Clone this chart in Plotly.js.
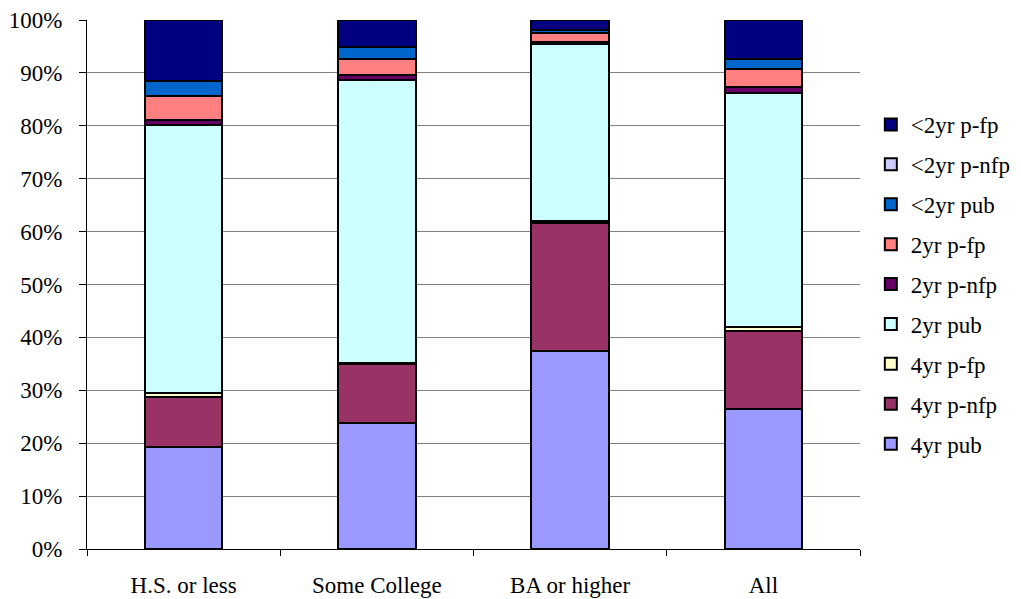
<!DOCTYPE html>
<html>
<head>
<meta charset="utf-8">
<script src="https://cdn.plot.ly/plotly-3.0.1.min.js"></script>
<style>html,body{margin:0;padding:0;background:#fff;}#chart{width:1021px;height:599px;}</style>
</head>
<body>
<div id="chart"></div>
<script>
const categories = ["H.S. or less", "Some College", "BA or higher", "All"];
const seriesNames = ["4yr pub", "4yr p-nfp", "4yr p-fp", "2yr pub", "2yr p-nfp", "2yr p-fp", "<2yr pub", "<2yr p-nfp", "<2yr p-fp"];
const fourYrPub   = [19.3, 23.8, 37.4, 26.4];
const fourYrPNfp  = [9.4, 11.2, 24.3, 14.8];
const fourYrPFp   = [0.8, 0.2, 0.3, 0.7];
const twoYrPub    = [50.6, 53.4, 33.4, 44.3];
const twoYrPNfp   = [1.0, 1.0, 0.5, 1.1];
const twoYrPFp    = [4.6, 3.1, 1.6, 3.4];
const ltTwoYrPub  = [2.7, 2.2, 0.6, 1.9];
const ltTwoYrPNfp = [0.0, 0.0, 0.0, 0.0];
const ltTwoYrPFp  = [11.6, 5.1, 1.9, 7.4];
const seriesValues = [fourYrPub, fourYrPNfp, fourYrPFp, twoYrPub, twoYrPNfp, twoYrPFp, ltTwoYrPub, ltTwoYrPNfp, ltTwoYrPFp];
const colors = ["#9999FF", "#993366", "#FFFFCC", "#CCFFFF", "#660066", "#FF8080", "#0066CC", "#CCCCFF", "#000080"];

const traces = seriesNames.map((name, i) => ({
  type: "bar",
  name: name,
  x: categories,
  y: seriesValues[i],
  legendgroup: "g" + i,
  legendrank: 100 - i,
  marker: {color: colors[i], line: {color: "#000", width: 2}},
  hoverinfo: "name+y"
}));

const font = {family: "Liberation Serif, Times New Roman, serif", size: 23, color: "#000"};
const layout = {
  width: 1021, height: 599,
  margin: {l: 87, r: 161, t: 20, b: 50, autoexpand: false},
  paper_bgcolor: "#fff", plot_bgcolor: "#fff",
  barmode: "stack",
  bargap: 0.6,
  font: font,
  showlegend: true,
  legend: {
    x: 1.014, xanchor: "left", y: 0.5, yanchor: "middle",
    traceorder: "grouped", tracegroupgap: 7,
    font: {family: font.family, size: 23, color: "#000"},
    itemwidth: 30
  },
  xaxis: {
    type: "category",
    showline: true, linecolor: "#000", linewidth: 1,
    ticks: "outside", tickson: "boundaries", ticklen: 6, tickcolor: "#000",
    ticklabelstandoff: 15,
    tickfont: font, showgrid: false, fixedrange: true
  },
  yaxis: {
    range: [0, 100], dtick: 10, ticksuffix: "%",
    showline: true, linecolor: "#000", linewidth: 1,
    ticks: "outside", ticklen: 7, tickcolor: "#000",
    ticklabelstandoff: 12,
    showgrid: true, gridcolor: "#808080", gridwidth: 1,
    zeroline: false, tickfont: font, fixedrange: true
  }
};
Plotly.newPlot("chart", traces, layout, {displayModeBar: false, staticPlot: true});
</script>
</body>
</html>
